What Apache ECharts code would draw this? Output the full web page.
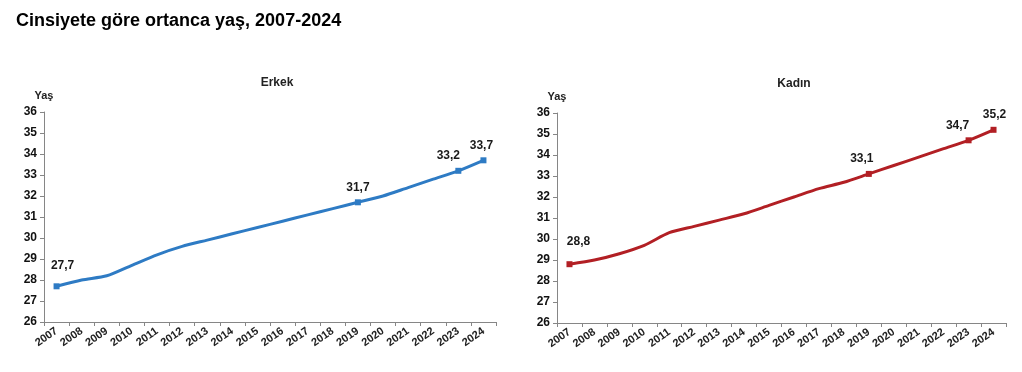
<!DOCTYPE html>
<html>
<head>
<meta charset="utf-8">
<script src="https://cdn.jsdelivr.net/npm/echarts@6/dist/echarts.min.js"></script>
<style>
html,body{margin:0;padding:0;background:#fff;}
#c{width:1022px;height:372px;}
</style>
</head>
<body>
<div id="c"></div>
<script>
const years = ['2007','2008','2009','2010','2011','2012','2013','2014','2015','2016','2017','2018','2019','2020','2021','2022','2023','2024'];
const erkek = [27.7, 28.0, 28.2, 28.7, 29.2, 29.6, 29.9, 30.2, 30.5, 30.8, 31.1, 31.4, 31.7, 32.0, 32.4, 32.8, 33.2, 33.7];
const kadin = [28.8, 29.0, 29.3, 29.7, 30.3, 30.6, 30.9, 31.2, 31.6, 32.0, 32.4, 32.7, 33.1, 33.5, 33.9, 34.3, 34.7, 35.2];
const labeledYears = ['2007','2019','2023','2024'];
const yTicks = [26,27,28,29,30,31,32,33,34,35,36];

const title = 'Cinsiyete göre ortanca yaş, 2007-2024';
const panelTitles = ['Erkek','Kadın'];
const yName = 'Yaş';

// label offsets (styling) per labeled year, per panel
const labelOffsets = [
  {'2007':[6,-6], '2019':[0,0], '2023':[-10,0], '2024':[-2,0]},
  {'2007':[9,-8], '2019':[-7,0], '2023':[-11,0], '2024':[1,0]}
];
const colors = ['#2E7BC4', '#B21F24'];
const fmt = v => v.toFixed(1).replace('.', ',');

function buildData(vals, p) {
  return vals.map((v, i) => {
    const y = years[i];
    if (labeledYears.indexOf(y) >= 0) {
      return {
        value: v,
        symbol: 'rect',
        symbolSize: 6,
        label: {show: true, position: 'top', distance: 6, offset: labelOffsets[p][y],
          formatter: p2 => fmt(p2.value), fontFamily: 'Liberation Sans, Arial', fontWeight: 'bold',
          fontSize: 12, color: '#1a1a1a'}
      };
    }
    return {value: v, symbol: 'none'};
  });
}

const font = 'Liberation Sans, Arial, sans-serif';
const grids = [
  {left: 44, top: 112, width: 452, height: 210},
  {left: 557, top: 113, width: 449, height: 210}
];

function xAxis(g) {
  return {
    type: 'category', gridIndex: g, data: years, boundaryGap: true,
    axisLine: {lineStyle: {color: '#868686', width: 1}},
    axisTick: {show: true, length: 4, lineStyle: {color: '#868686'}},
    axisLabel: {rotate: 35, interval: 0, margin: 8, fontFamily: font, fontWeight: 'bold', fontSize: 11, color: '#222'}
  };
}
function yAxis(g) {
  return {
    type: 'value', gridIndex: g, min: yTicks[0], max: yTicks[yTicks.length-1], interval: 1,
    name: yName, nameLocation: 'end', nameGap: 11,
    nameTextStyle: {fontFamily: font, fontWeight: 'bold', fontSize: 11, color: '#222', align: 'center'},
    axisLine: {show: true, lineStyle: {color: '#868686', width: 1}},
    axisTick: {show: true, length: 4, lineStyle: {color: '#868686'}},
    splitLine: {show: false},
    axisLabel: {margin: 7, fontFamily: font, fontWeight: 'bold', fontSize: 12, color: '#111'}
  };
}

const chart = echarts.init(document.getElementById('c'), null, {renderer: 'canvas'});
chart.setOption({
  animation: false,
  backgroundColor: '#fff',
  title: {text: title, left: 11, top: 7, textStyle: {fontFamily: font, fontWeight: 'bold', fontSize: 18, color: '#000'}},
  graphic: [
    {type: 'text', x: 277, y: 83, style: {text: panelTitles[0], font: 'bold 12px ' + font, fill: '#222', textAlign: 'center', textVerticalAlign: 'middle'}},
    {type: 'text', x: 794, y: 84, style: {text: panelTitles[1], font: 'bold 12px ' + font, fill: '#222', textAlign: 'center', textVerticalAlign: 'middle'}}
  ],
  grid: grids,
  xAxis: [xAxis(0), xAxis(1)],
  yAxis: [yAxis(0), yAxis(1)],
  series: [
    {type: 'line', name: panelTitles[0], xAxisIndex: 0, yAxisIndex: 0, data: buildData(erkek, 0),
     smooth: 0.25, lineStyle: {color: colors[0], width: 3}, itemStyle: {color: colors[0]}, showAllSymbol: true},
    {type: 'line', name: panelTitles[1], xAxisIndex: 1, yAxisIndex: 1, data: buildData(kadin, 1),
     smooth: 0.25, lineStyle: {color: colors[1], width: 3}, itemStyle: {color: colors[1]}, showAllSymbol: true}
  ]
});
</script>
</body>
</html>
